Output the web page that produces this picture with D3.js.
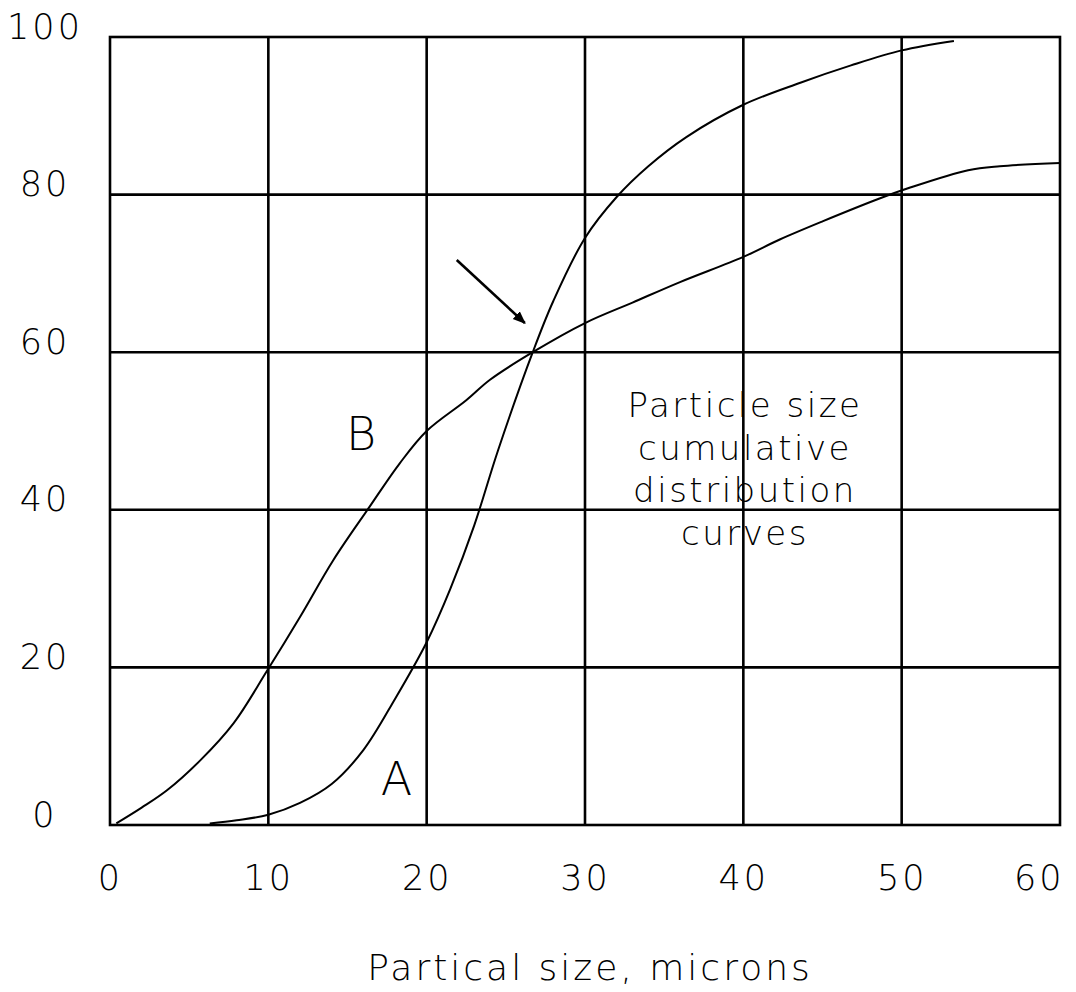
<!DOCTYPE html>
<html>
<head>
<meta charset="utf-8">
<script src="https://cdn.jsdelivr.net/npm/d3@7"></script>
<style>
	body { margin: 0; background: #fff; }
	svg text { font-family: "DejaVu Sans", sans-serif; font-weight: 200; fill: #000; }
</style>
</head>
<body>
<svg id="chart" width="1076" height="992"></svg>
<script>
// values
var xTicks = [0, 10, 20, 30, 40, 50, 60];
var yTicks = [0, 20, 40, 60, 80, 100];

var curveA_x = [6.3, 8, 10, 12, 14, 16, 18, 20, 21.5, 23, 24.5, 26.7, 28, 30, 32, 34, 36.4, 40, 43.6, 46.8, 50, 53.3];
var curveA_y = [0.2, 0.6, 1.3, 2.8, 5.2, 9.5, 16, 23.2, 30, 38, 47.5, 60, 66.5, 74.5, 79.7, 83.6, 87.3, 91.4, 94.2, 96.4, 98.3, 99.5];

var curveB_x = [0.4, 2, 3.6, 5.7, 7.8, 9.9, 12, 14.1, 16.4, 18.3, 20, 22.5, 24, 26.7, 30, 33, 36, 40, 42.3, 45, 48.6, 50.4, 54.2, 56.2, 60];
var curveB_y = [0.2, 2.2, 4.4, 8.2, 12.9, 19.5, 26.4, 33.6, 40.4, 45.9, 50, 53.9, 56.5, 60, 63.7, 66.3, 68.9, 72.1, 74.3, 76.6, 79.5, 80.8, 83.1, 83.6, 84];

var curveLabels = ["A", "B"];
var curveLabelPos = [[18.1, 3.8], [15.85, 47.6]];

var arrowFrom = [21.9, 71.7];
var arrowTo = [26.2, 63.7];

var noteLines = ["Particle size", "cumulative", "distribution", "curves"];
var xTitle = "Partical size, microns";

function chart(){
	var svg = d3.select("#chart");

	var x = d3.scaleLinear().domain([0, 60]).range([110, 1060]);
	var y = d3.scaleLinear().domain([0, 100]).range([825, 37]);

	var defs = svg.append("defs");
	defs.append("marker")
		.attr("id", "head")
		.attr("viewBox", "0 0 10 10")
		.attr("refX", 9).attr("refY", 5)
		.attr("markerWidth", 5).attr("markerHeight", 5)
		.attr("orient", "auto")
		.append("path")
		.attr("d", "M0,1 L10,5 L0,9 Z")
		.attr("fill", "#000");

	// grid
	var grid = svg.append("g").attr("stroke", "#000").attr("stroke-width", 2.6);
	grid.selectAll("line.v")
		.data(xTicks.slice(1, -1))
		.enter().append("line")
		.attr("x1", function(d){ return x(d); })
		.attr("x2", function(d){ return x(d); })
		.attr("y1", y(0)).attr("y2", y(100));
	grid.selectAll("line.h")
		.data(yTicks.slice(1, -1))
		.enter().append("line")
		.attr("y1", function(d){ return y(d); })
		.attr("y2", function(d){ return y(d); })
		.attr("x1", x(0)).attr("x2", x(60));
	grid.append("rect")
		.attr("x", x(0)).attr("y", y(100))
		.attr("width", x(60) - x(0)).attr("height", y(0) - y(100))
		.attr("fill", "none");

	// axes, labels only
	var xAxis = svg.append("g")
		.attr("transform", "translate(0," + y(0) + ")")
		.call(d3.axisBottom(x).tickValues(xTicks).tickSize(0));
	xAxis.select(".domain").remove();
	xAxis.selectAll("text")
		.attr("y", 65).attr("dy", 0)
		.attr("font-size", 35)
		.attr("letter-spacing", 3)
		.attr("font-family", null)
		.style("text-anchor", function(d){ return d == 60 ? "end" : "middle"; })
		.attr("x", function(d){ return d == 60 ? 4 : 0; });

	var yAxis = svg.append("g")
		.attr("transform", "translate(" + x(0) + ",0)")
		.call(d3.axisLeft(y).tickValues(yTicks).tickSize(0));
	yAxis.select(".domain").remove();
	yAxis.selectAll("text")
		.attr("x", -65).attr("dy", 1)
		.attr("font-size", 35)
		.attr("letter-spacing", 3)
		.attr("font-family", null)
		.style("text-anchor", "middle");
	svg.selectAll(".tick text").attr("fill", "#000");

	// curves
	var line = d3.line()
		.x(function(d){ return x(d[0]); })
		.y(function(d){ return y(d[1]); })
		.curve(d3.curveCatmullRom.alpha(0.5));

	var series = [d3.zip(curveA_x, curveA_y), d3.zip(curveB_x, curveB_y)];
	svg.selectAll("path.curve")
		.data(series)
		.enter().append("path")
		.attr("class", "curve")
		.attr("d", line)
		.attr("fill", "none")
		.attr("stroke", "#000")
		.attr("stroke-width", 2);

	svg.selectAll("text.curvelabel")
		.data(curveLabels)
		.enter().append("text")
		.attr("class", "curvelabel")
		.attr("x", function(d, i){ return x(curveLabelPos[i][0]); })
		.attr("y", function(d, i){ return y(curveLabelPos[i][1]); })
		.attr("text-anchor", "middle")
		.attr("font-size", 46)
		.text(function(d){ return d; });

	// arrow pointing at the crossing
	svg.append("line")
		.attr("x1", x(arrowFrom[0])).attr("y1", y(arrowFrom[1]))
		.attr("x2", x(arrowTo[0])).attr("y2", y(arrowTo[1]))
		.attr("stroke", "#000")
		.attr("stroke-width", 2.6)
		.attr("marker-end", "url(#head)");

	// note block
	var note = svg.append("text")
		.attr("text-anchor", "middle")
		.attr("font-size", 34)
		.attr("letter-spacing", 2.5);
	note.selectAll("tspan")
		.data(noteLines)
		.enter().append("tspan")
		.attr("x", 745)
		.attr("y", function(d, i){ return 417 + i * 42.7; })
		.text(function(d){ return d; });

	svg.append("text")
		.attr("x", 590).attr("y", 980)
		.attr("text-anchor", "middle")
		.attr("font-size", 36)
		.attr("letter-spacing", 3)
		.text(xTitle);
}

chart();
</script>
</body>
</html>
